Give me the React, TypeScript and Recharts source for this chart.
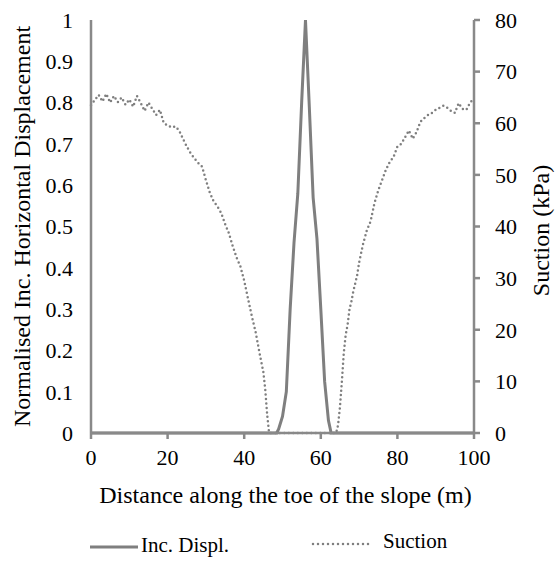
import React from 'react';
import { LineChart, Line, XAxis, YAxis, Legend } from 'recharts';

// Inc. displacement (normalised) along the toe
const dispX = [0, 10, 20, 30, 40, 48, 48.5, 49, 50, 51, 52, 53, 54, 55, 56, 57, 58, 59, 60, 61, 62, 62.7, 70, 80, 90, 100];
const dispY = [0, 0, 0, 0, 0, 0, 0, 0.01, 0.04, 0.1, 0.3, 0.46, 0.58, 0.8, 1, 0.79, 0.57, 0.47, 0.3, 0.125, 0.03, 0, 0, 0, 0, 0];

// Suction (kPa)
const suctionX = [
  0, 1, 2, 3, 4, 5, 6, 7, 8, 9, 10, 11, 12, 13, 14, 15, 16, 17, 18, 19, 20, 21, 22, 23, 24, 25, 26, 27, 28, 29,
  30, 31, 32, 33, 34, 35, 36, 37, 38, 39, 40, 41, 42, 43, 44, 45, 45.5, 46, 46.5,
  48, 50, 52, 54, 56, 58, 60, 62, 64,
  64.5, 65, 65.5, 66, 66.5, 67, 67.5, 68, 68.5, 69, 69.5, 70, 71, 72, 73, 74, 75, 76, 77, 78, 79,
  80, 81, 82, 83, 84, 85, 86, 87, 88, 89, 90, 91, 92, 93, 94, 95, 96, 97, 98, 99, 100,
];
const suctionY = [
  63.5, 64.5, 65.5, 64.2, 65.7, 64, 65.3, 64.1, 65, 63.6, 64.6, 63.2, 65.3, 63.9, 62.4, 64, 62.8, 61.6, 62.6, 60, 59.6, 59.2, 59.4, 58.6, 57, 55.5, 54.2, 53.2, 52.3, 51.6,
  49, 46.6, 44.9, 43.9, 42.6, 40.5, 38.7, 36.2, 34, 32.3, 29.5, 26, 22.6, 19.5, 15.5, 11.8, 8.4, 3.5, 0,
  0, 0, 0, 0, 0, 0, 0, 0, 0,
  1.5, 5, 10, 15.5, 19, 21, 24, 25.5, 27.5, 29, 30.6, 33, 36.5, 39.2, 41, 44.5, 47, 49, 51, 52.5, 53.5,
  55.5, 56, 57.3, 58.6, 57, 58.3, 60.3, 61, 61.6, 62, 62.6, 63, 63.4, 63, 62.4, 62, 63.9, 62.8, 62.6, 64, 64.8,
];

const xTicks = [0, 20, 40, 60, 80, 100];
const leftTicks = [0, 0.1, 0.2, 0.3, 0.4, 0.5, 0.6, 0.7, 0.8, 0.9, 1];
const rightTicks = [0, 10, 20, 30, 40, 50, 60, 70, 80];

const dispData = dispX.map((x, i) => ({ x, disp: dispY[i] }));
const suctionData = suctionX.map((x, i) => ({ x, suction: suctionY[i] }));

const FONT = "'Liberation Serif', 'Times New Roman', Times, 'DejaVu Serif', serif";
const AXIS = '#898989';
const SERIES = '#7f7f7f';

const tickStyle = { fontFamily: FONT, fontSize: 22, fill: '#000' };

function LegendBox() {
  return (
    <div style={{ position: 'relative', width: 555, height: 40, fontFamily: FONT, fontSize: 21, color: '#000' }}>
      <svg width={555} height={40} style={{ position: 'absolute', left: 0, top: 0 }}>
        <line x1={90} x2={138} y1={22} y2={22} stroke={SERIES} strokeWidth={3} />
        <line x1={313} x2={372} y1={19} y2={19} stroke={SERIES} strokeWidth={2.5} strokeDasharray="0 5" strokeLinecap="round" />
      </svg>
      <span style={{ position: 'absolute', left: 141, top: 8 }}>Inc. Displ.</span>
      <span style={{ position: 'absolute', left: 383, top: 4 }}>Suction</span>
    </div>
  );
}

export default function App() {
  return (
    <div style={{ position: 'absolute', left: 0, top: 0, background: '#fff', fontFamily: FONT }}>
      <LineChart width={555} height={565} margin={{ top: 20, right: 0, left: 0, bottom: 0 }} style={{ fontFamily: FONT }}>
        <XAxis
          type="number"
          dataKey="x"
          domain={[0, 100]}
          ticks={xTicks}
          allowDuplicatedCategory={false}
          height={92}
          stroke={AXIS}
          strokeWidth={2.5}
          tickSize={6}
          tickMargin={10}
          tick={tickStyle}
          label={({ viewBox }: any) => (
            <text x={viewBox.x + viewBox.width / 2 + 3} y={503} textAnchor="middle" style={{ fontFamily: FONT, fontSize: 24 }} fill="#000">
              Distance along the toe of the slope (m)
            </text>
          )}
        />
        <YAxis
          yAxisId="left"
          domain={[0, 1]}
          ticks={leftTicks}
          width={91}
          stroke={AXIS}
          strokeWidth={2.5}
          tickLine={false}
          tickSize={0}
          tickMargin={18}
          tick={tickStyle}
          tickFormatter={(v: number) => (v === 0 || v === 1 ? String(v) : v.toFixed(1))}
          label={({ viewBox }: any) => (
            <text
              x={22}
              y={viewBox.y + viewBox.height / 2}
              transform={`rotate(-90, 22, ${viewBox.y + viewBox.height / 2})`}
              textAnchor="middle"
              dominantBaseline="central"
              style={{ fontFamily: FONT, fontSize: 24 }}
              fill="#000"
            >
              Normalised Inc. Horizontal Displacement
            </text>
          )}
        />
        <YAxis
          yAxisId="right"
          orientation="right"
          domain={[0, 80]}
          ticks={rightTicks}
          width={81}
          stroke={AXIS}
          strokeWidth={2.5}
          tickSize={6}
          tickMargin={15}
          tick={tickStyle}
          label={({ viewBox }: any) => (
            <text
              x={541}
              y={viewBox.y + viewBox.height / 2 + 4}
              transform={`rotate(-90, 541, ${viewBox.y + viewBox.height / 2 + 4})`}
              textAnchor="middle"
              dominantBaseline="central"
              style={{ fontFamily: FONT, fontSize: 24 }}
              fill="#000"
            >
              Suction (kPa)
            </text>
          )}
        />
        <Legend verticalAlign="bottom" height={40} content={() => <LegendBox />} />
        <Line
          yAxisId="right"
          data={suctionData}
          dataKey="suction"
          name="Suction"
          type="linear"
          stroke={SERIES}
          strokeWidth={2.5}
          strokeDasharray="0 4.5"
          strokeLinecap="round"
          dot={false}
          activeDot={false}
          isAnimationActive={false}
        />
        <Line
          yAxisId="left"
          data={dispData}
          dataKey="disp"
          name="Inc. Displ."
          type="linear"
          stroke={SERIES}
          strokeWidth={3}
          dot={false}
          activeDot={false}
          isAnimationActive={false}
        />
      </LineChart>
    </div>
  );
}
